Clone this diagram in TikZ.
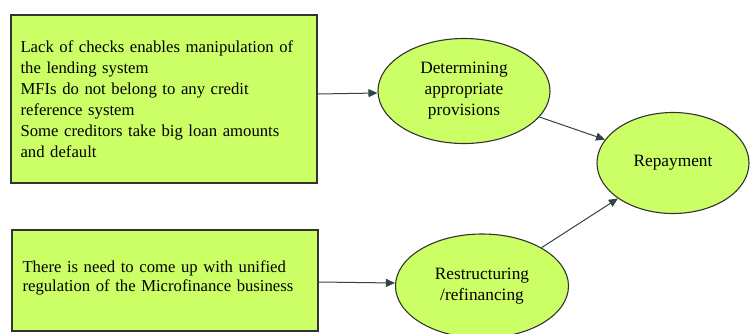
\documentclass[tikz,border=0pt]{standalone}
\usepackage{fontspec}
\setmainfont{Liberation Serif}
\usetikzlibrary{shapes.geometric,arrows.meta}
\definecolor{boxfill}{HTML}{CCFF66}
\definecolor{edge}{HTML}{333333}
\definecolor{arr}{HTML}{2F4444}
\begin{document}
\begin{tikzpicture}[x=1pt,y=-1pt,
  rectbox/.style={draw=edge,line width=1.5pt,fill=boxfill,minimum width=306pt,inner sep=0pt},
  ellbox/.style={ellipse,draw=edge,line width=1.1pt,fill=boxfill,inner sep=0pt,align=center,font=\fontsize{17.3}{21}\selectfont},
  conn/.style={draw=arr,line width=1pt,-{Triangle[length=9pt,width=8pt]}}]
\useasboundingbox (0,0) rectangle (750,333);
\node[rectbox,minimum height=168pt,anchor=north west] (b1) at (10,14) {};
\node[anchor=west,align=left,text width=295pt,font=\fontsize{16.7}{21}\selectfont] (t1) at (17,99)
 {Lack of checks enables manipulation of\\the lending system\\MFIs do not belong to any credit\\reference system\\Some creditors take big loan amounts\\and default};
\node[rectbox,minimum height=101pt,anchor=north west] (b2) at (11,229) {};
\node[anchor=west,align=left,text width=295pt,font=\fontsize{16.7}{19}\selectfont] (t2) at (19,278)
 {There is need to come up with unified\\regulation of the Microfinance business};
\node[ellbox,minimum width=172pt,minimum height=105pt] (e1) at (464,91) {Determining\\appropriate\\provisions};
\node[ellbox,minimum width=152pt,minimum height=101pt] (e3) at (673,163) {Repayment};
\node[ellbox,minimum width=173pt,minimum height=104pt] (e2) at (482,286) {Restructuring\\/refinancing};
\draw[conn] (b1.east |- 0,94) -- (e1.west |- 0,93);
\draw[conn] (b2.east |- 0,282) -- (e2.west |- 0,283);
\draw[conn] (e1) -- (e3);
\draw[conn] (e2) -- (e3);
\end{tikzpicture}
\end{document}
